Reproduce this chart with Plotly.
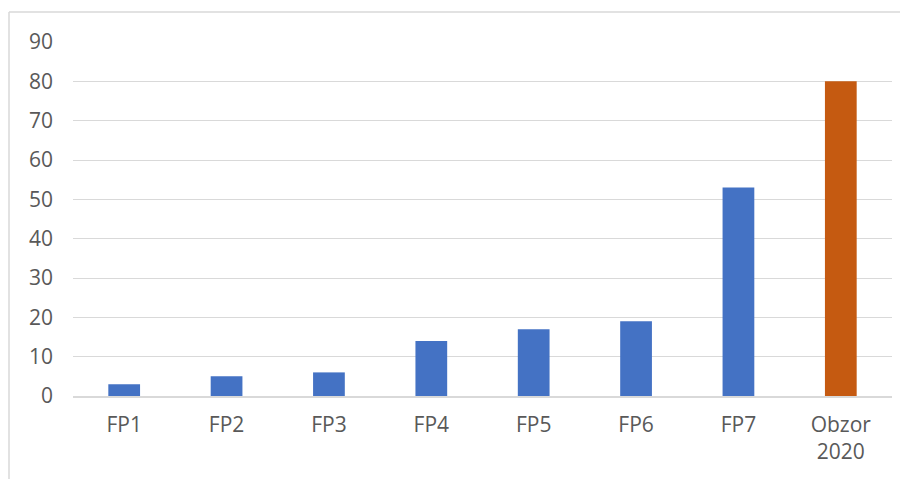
import plotly.graph_objects as go

categories = ["FP1", "FP2", "FP3", "FP4", "FP5", "FP6", "FP7", "Obzor<br>2020"]
values = [3, 5, 6, 14, 17, 19, 53, 80]
bar_colors = ["#4472C4"] * 7 + ["#C55A11"]
y_ticks = [0, 10, 20, 30, 40, 50, 60, 70, 80, 90]

# page body has an 8px margin, so figure coords = screen coords - 8
W, H = 908, 479
L, R, T, B = 65, 24, 34, 91
pw, ph = W - L - R, H - T - B

fig = go.Figure(go.Bar(x=categories, y=values, marker=dict(color=bar_colors, line=dict(width=0)),
                       width=0.31))

fig.update_layout(
    width=W, height=H,
    margin=dict(l=L, r=R, t=T, b=B),
    plot_bgcolor="white", paper_bgcolor="white",
    font=dict(family="Open Sans, Carlito, sans-serif", size=21, color="#595959"),
    showlegend=False,
    xaxis=dict(showgrid=False, showline=True, linecolor="#D9D9D9", linewidth=1.5,
               ticks="", ticklabelstandoff=9, tickfont=dict(size=21, color="#595959")),
    yaxis=dict(range=[0, 90], tickvals=y_ticks, showgrid=True, gridcolor="#D9D9D9", gridwidth=1.3,
               zeroline=False, showline=False, ticks="", ticklabelstandoff=19,
               tickfont=dict(size=21, color="#595959")),
)

# chart frame (clipped by the page on right and bottom)
x0 = (1 - L) / pw
y1 = (H - B - 4) / ph
fig.add_shape(type="line", xref="paper", yref="paper", x0=x0, x1=(W + 20 - L) / pw, y0=y1, y1=y1,
              line=dict(color="#D9D9D9", width=1.5))
fig.add_shape(type="line", xref="paper", yref="paper", x0=x0, x1=x0, y0=y1, y1=-(B + 20) / ph,
              line=dict(color="#D9D9D9", width=1.5))

fig.write_html("out.html")
